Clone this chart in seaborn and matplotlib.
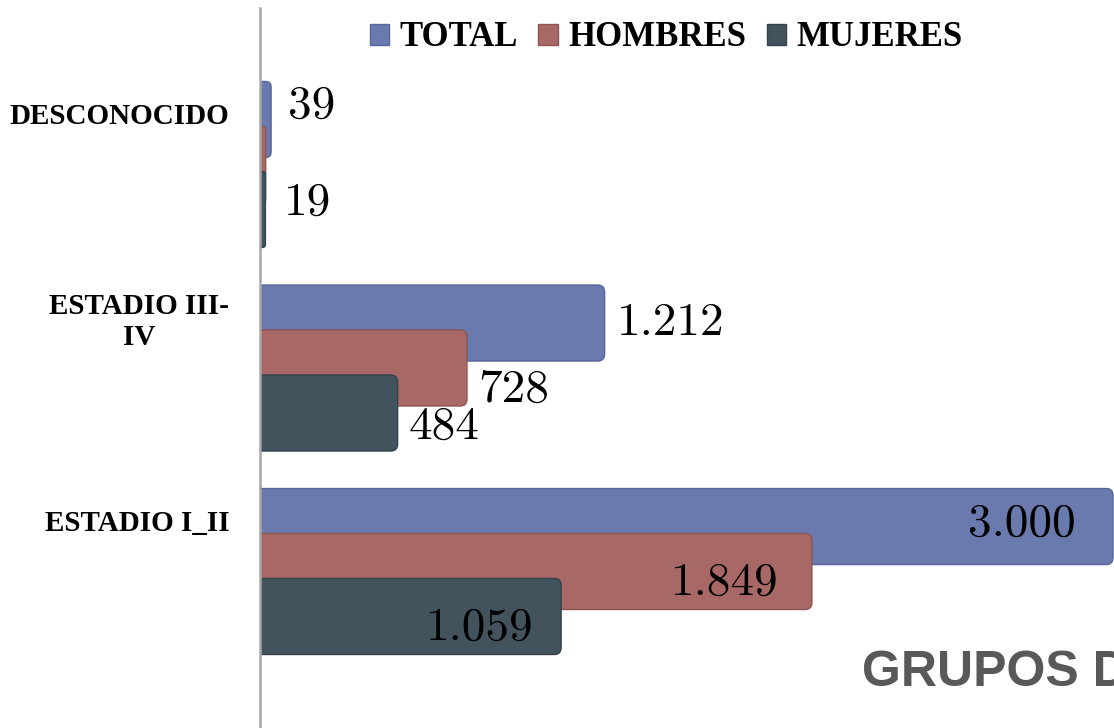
import numpy as np
import pandas as pd
import matplotlib
matplotlib.use("Agg")
import matplotlib.pyplot as plt
from matplotlib.patches import Patch, FancyBboxPatch
import seaborn as sns

# data
categories = ["DESCONOCIDO", "ESTADIO III-\nIV", "ESTADIO I_II"]
series = ["TOTAL", "HOMBRES", "MUJERES"]
total = [39, 1212, 3000]
hombres = [20, 728, 1941]
mujeres = [19, 484, 1059]
# data labels as printed on the chart (None = not shown)
total_labels = ["39", "1.212", "3.000"]
hombres_labels = [None, "728", "1.849"]
mujeres_labels = ["19", "484", "1.059"]

colors = ["#6a7aae", "#a86966", "#42535e"]
edges = ["#56659a", "#8f5552", "#33424b"]

df = pd.DataFrame({
    "cat": categories * 3,
    "serie": [s for s in series for _ in categories],
    "valor": total + hombres + mujeres,
})

sns.set_style("white")
plt.rcParams["text.color"] = "black"
plt.rcParams["ytick.color"] = "black"
fig = plt.figure(figsize=(11.14, 7.28), dpi=100)
ax = fig.add_axes([260 / 1114, 0, 1 - 260 / 1114, 720 / 728])

sns.barplot(data=df, x="valor", y="cat", hue="serie", order=categories,
            hue_order=series, palette=colors, saturation=1, width=0.663,
            orient="h", errorbar=None, legend=False, ax=ax)

ax.set_xlim(0, 3003.5)
ax.set_ylim(2.769, -0.769)

# enlarge bars so they overlap like the original, and round the ends
rx, ry = 24.0, 0.034
for k, cont in enumerate(ax.containers):
    for bar in cont:
        c = bar.get_y() + bar.get_height() / 2
        h = 0.3735
        w = bar.get_width()
        bar.set_visible(False)
        r = min(rx, w / 2)
        box = FancyBboxPatch((-rx, c - h / 2), w + rx, h,
                             boxstyle=f"round,pad=0,rounding_size={r}",
                             mutation_aspect=ry / rx,
                             facecolor=colors[k], edgecolor=edges[k],
                             linewidth=1.0, zorder=2 + k * 0.01)
        ax.add_patch(box)

ax.set_xlabel("")
ax.set_ylabel("")
ax.set_xticks([])
ax.set_yticks([i - 0.25 for i in range(len(categories))])
ax.set_yticklabels(categories, fontfamily="Liberation Serif", fontweight="bold",
                   fontsize=21, multialignment="center", color="black")
ax.tick_params(axis="y", length=0, pad=22)
for s in ["top", "right", "bottom"]:
    ax.spines[s].set_visible(False)
ax.spines["left"].set_color("#a6a6a6")
ax.spines["left"].set_linewidth(1.8)
ax.spines["left"].set_zorder(5)

# label offsets in points (dx from bar end, dy from bar centre), per series
offsets = [
    [(12, 10, "left"), (9, 0, "left"), (-27, 2, "right")],
    [(0, 0, "left"), (8, -16, "left"), (-24, -8, "right")],
    [(13, 5, "left"), (8, -10, "left"), (-20, -8, "right")],
]
all_labels = [total_labels, hombres_labels, mujeres_labels]
for k, cont in enumerate(ax.containers):
    for j, bar in enumerate(cont):
        txt = all_labels[k][j]
        if txt is None:
            continue
        dx, dy, ha = offsets[k][j]
        ax.annotate(txt, (bar.get_width(), bar.get_y() + bar.get_height() / 2),
                    xytext=(dx, dy), textcoords="offset points", ha=ha,
                    va="center", fontsize=34, fontfamily="cmr10",
                    color="black", annotation_clip=False, zorder=6)

handles = [Patch(facecolor=colors[i], edgecolor=edges[i]) for i in range(3)]
fig.legend(handles, series, loc="center", bbox_to_anchor=(0.598, 0.948),
           ncol=3, frameon=False, handlelength=0.55, handleheight=0.55,
           handletextpad=0.3, columnspacing=0.6, labelcolor="black",
           prop={"family": "Liberation Serif", "weight": "bold", "size": 25})

fig.text(862 / 1114, 1 - 686 / 728, "GRUPOS DE ESTADIO", fontsize=36,
         fontweight="bold", fontfamily="Liberation Sans", color="#595959",
         va="baseline", ha="left")

fig.savefig("out.png", dpi=100)
